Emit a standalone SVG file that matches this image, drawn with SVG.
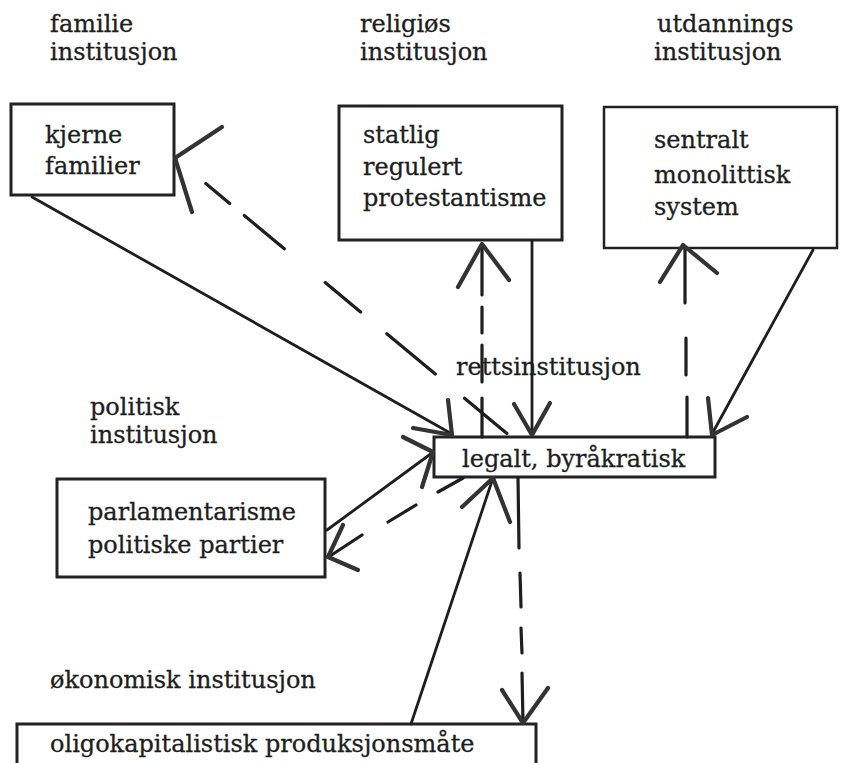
<svg xmlns="http://www.w3.org/2000/svg" width="841" height="763" viewBox="0 0 841 763">
<style>
text{font-family:"DejaVu Serif","Liberation Serif",serif;font-size:24px;fill:#1e1e1e;stroke:#1e1e1e;stroke-width:0.3}
.box{fill:#fff;stroke:#222;stroke-width:3}
.ln{fill:none;stroke:#1e1e1e;stroke-width:2.8;stroke-linecap:round}
.dl{fill:none;stroke:#1e1e1e;stroke-width:3.2;stroke-linecap:round}
.ah{fill:none;stroke:#333;stroke-width:4.2;stroke-linecap:round;stroke-linejoin:round}
</style>
<rect width="841" height="763" fill="#fff"/>
<g id="labels">
<text x="50" y="32">familie</text><text x="50" y="60">institusjon</text>
<text x="360" y="32">religiøs</text><text x="360" y="60">institusjon</text>
<text x="657" y="32">utdannings</text><text x="654" y="60">institusjon</text>
<text x="90" y="415">politisk</text><text x="90" y="443">institusjon</text>
<text x="50" y="688">økonomisk institusjon</text>
</g>
<g id="familie">
<rect class="box" x="11" y="104" width="163" height="91"/>
<text x="45" y="143">kjerne</text><text x="45" y="174">familier</text>
</g>
<g id="religios">
<rect class="box" x="339" y="106" width="223" height="134"/>
<text x="363" y="143">statlig</text><text x="363" y="175">regulert</text><text x="363" y="206">protestantisme</text>
</g>
<g id="utdanning">
<rect class="box" x="604" y="107" width="233" height="141" style="stroke-width:2.5"/>
<text x="654" y="148">sentralt</text><text x="654" y="183">monolittisk</text><text x="654" y="215">system</text>
</g>
<g id="retts">
<text x="456" y="375">rettsinstitusjon</text>
<rect class="box" x="434" y="437" width="281" height="40"/>
<text x="462" y="467">legalt, byråkratisk</text>
</g>
<g id="politisk">
<rect class="box" x="57" y="479" width="268" height="98"/>
<text x="88" y="520">parlamentarisme</text><text x="88" y="553">politiske partier</text>
</g>
<g id="okonomisk">
<rect class="box" x="17" y="724" width="519" height="60"/>
<text x="50" y="752">oligokapitalistisk produksjonsmåte</text>
</g>
<g id="connectors">
<line class="ln" x1="32" y1="197" x2="452" y2="434"/>
<polyline class="ah" points="448,400 452,435 413,428"/>
<path class="dl" d="M205.8,183.6L229.7,203.4M244.3,215.5L284.3,248.7M325.2,282.6L360.6,312M386.8,333.7L435.3,374M464.5,398.3L506.9,433.4"/>
<polyline class="ah" points="222,127 175,158 192,212"/>
<line class="ln" x1="532" y1="241" x2="532" y2="434"/>
<polyline class="ah" points="514,404 532,435 550,403"/>
<path class="dl" d="M482,245L482,295M482,307L482,333M482,345L482,382M482,398L482,437"/>
<polyline class="ah" points="458,287 482,244 509,280"/>
<path class="dl" d="M685,247L685,303M686,338L686,375M687,397L687,437"/>
<polyline class="ah" points="660,282 683,245 717,273"/>
<line class="ln" x1="813" y1="250" x2="712" y2="434"/>
<polyline class="ah" points="708,398 712,435 747,417"/>
<line class="ln" x1="432" y1="453" x2="327" y2="530"/>
<polyline class="ah" points="403,437 433,452 422,487"/>
<path class="dl" d="M330,556L362,535M388,522L416,505M438,492L463,478"/>
<polyline class="ah" points="343,525 328,557 358,570"/>
<line class="ln" x1="411" y1="724" x2="493" y2="478"/>
<polyline class="ah" points="462,507 493,478 510,522"/>
<path class="dl" d="M518,478L519,548M520,573L521,607M521,628L522,653M522,673L523,723"/>
<polyline class="ah" points="502,690 523,723 548,688"/>
</g>
</svg>
